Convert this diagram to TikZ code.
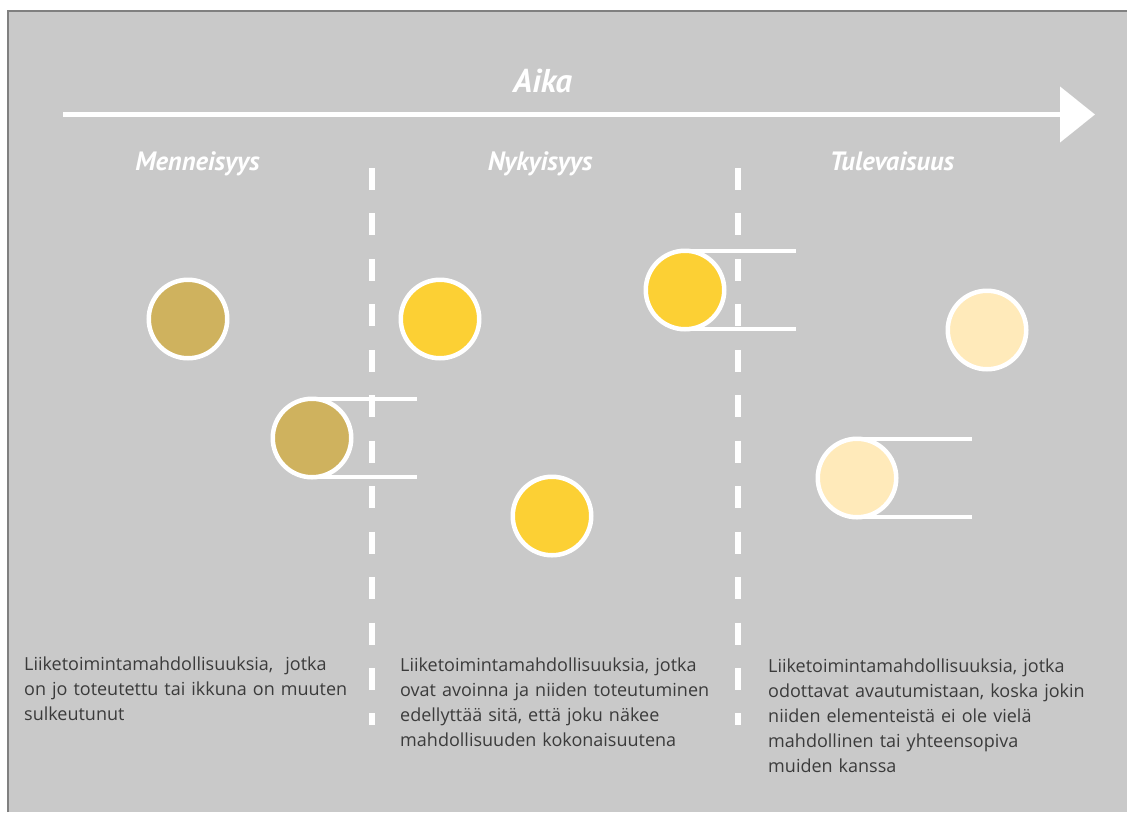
\documentclass[tikz,border=0pt]{standalone}
\usepackage{fontspec}
\setmainfont{Open Sans}
\newfontfamily\hdrfont{PT Sans}
\usetikzlibrary{arrows.meta}
\definecolor{bggray}{HTML}{C9C9C9}
\definecolor{framegray}{HTML}{808080}
\definecolor{goldc}{HTML}{CFB25E}
\definecolor{yellowc}{HTML}{FCD034}
\definecolor{palec}{HTML}{FFEABA}
\definecolor{txtgray}{HTML}{3B3B3B}
\tikzset{
  opp/.style={circle, draw=white, line width=4.5pt, minimum size=78.5pt, inner sep=0pt, outer sep=0pt},
  tail/.style={draw=white, line width=4pt},
  divider/.style={draw=white, line width=6pt, dash pattern=on 22pt off 23.45pt},
  timeline/.style={draw=white, line width=4.5pt, -{Triangle[length=35pt,width=55pt]}},
  hdr/.style={text=white, font=\hdrfont\bfseries\itshape\fontsize{26.5}{30}\selectfont, inner sep=0pt, anchor=base},
  desc/.style={text=txtgray, font=\fontsize{18}{25.2}\selectfont, align=left, text width=360pt, inner sep=0pt, anchor=base west}
}
\begin{document}
\begin{tikzpicture}[x=1pt,y=-1pt]
\useasboundingbox (0,0) rectangle (1127,812);
\fill[white] (0,0) rectangle (1127,812);
\fill[bggray] (8,11) rectangle (1127,812);
\draw[framegray, line width=2pt] (8,812) -- (8,11) -- (1127,11);

% timeline
\coordinate (t0) at (63,114.5);
\coordinate (t1) at (1095,114.5);
\draw[timeline] (t0) -- (t1);
\node[hdr, font=\hdrfont\bfseries\itshape\fontsize{33}{36}\selectfont] (aika) at (542.5,92) {Aika};

% headers
\node[hdr] (past) at (197.5,170) {Menneisyys};
\node[hdr] (now) at (540,170) {Nykyisyys};
\node[hdr] (fut) at (892,170) {Tulevaisuus};

% dividers
\coordinate (d1a) at (372,168);
\coordinate (d1b) at (372,725);
\coordinate (d2a) at (738,168);
\coordinate (d2b) at (738,725);
\draw[divider] (d1a) -- (d1b);
\draw[divider] (d2a) -- (d2b);

% circles
\node[opp, fill=goldc] (c1) at (188,319) {};
\node[opp, fill=goldc] (c2) at (312,438) {};
\node[opp, fill=yellowc] (c3) at (440,319) {};
\node[opp, fill=yellowc] (c4) at (552,516) {};
\node[opp, fill=yellowc] (c5) at (685,290) {};
\node[opp, fill=palec] (c6) at (987,330) {};
\node[opp, fill=palec] (c7) at (857,478) {};

% tails
\coordinate (c2t) at (417,398.75);
\coordinate (c2b) at (417,477.25);
\coordinate (c5t) at (796,250.75);
\coordinate (c5b) at (796,329.25);
\coordinate (c7t) at (972,438.75);
\coordinate (c7b) at (972,517.25);
\draw[tail] (c2.north) -- (c2t);
\draw[tail] (c2.south) -- (c2b);
\draw[tail] (c5.north) -- (c5t);
\draw[tail] (c5.south) -- (c5b);
\draw[tail] (c7.north) -- (c7t);
\draw[tail] (c7.south) -- (c7b);

% descriptions
\node[desc] (txt1) at (24,670) {Liiketoimintamahdollisuuksia,\ \ jotka\\on jo toteutettu tai ikkuna on muuten\\sulkeutunut};
\node[desc] (txt2) at (400,671) {Liiketoimintamahdollisuuksia, jotka\\ovat avoinna ja niiden toteutuminen\\edellyttää sitä, että joku näkee\\mahdollisuuden kokonaisuutena};
\node[desc] (txt3) at (768,672) {Liiketoimintamahdollisuuksia, jotka\\odottavat avautumistaan, koska jokin\\niiden elementeistä ei ole vielä\\mahdollinen tai yhteensopiva\\muiden kanssa};
\end{tikzpicture}
\end{document}
